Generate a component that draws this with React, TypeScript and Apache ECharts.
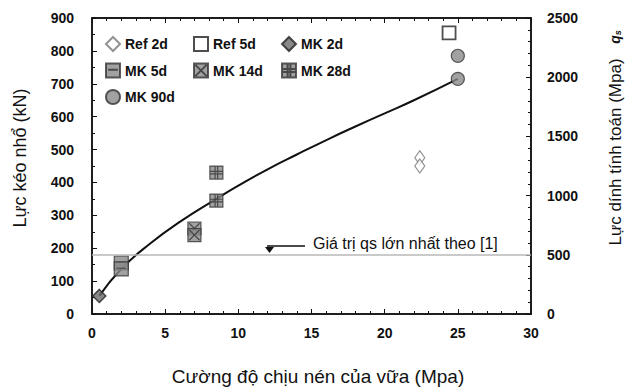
import React, { useEffect, useRef } from "react";
import * as echarts from "echarts";

// Data
const ref2d: number[][] = [[22.4, 475], [22.4, 450]];
const ref5d: number[][] = [[24.4, 855]];
const mk2d: number[][] = [[0.5, 55]];
const mk5d: number[][] = [[2, 155], [2, 137]];
const mk14d: number[][] = [[7, 260], [7, 240]];
const mk28d: number[][] = [[8.5, 430], [8.5, 345]];
const mk90d: number[][] = [[25, 785], [25, 715]];

// trend curve
const curveX = [0.5, 2, 4, 6, 8.5, 10, 12, 14, 16.3, 18, 20, 22, 25];
const curveY = [55, 137, 215, 280, 350, 390, 440, 485, 535, 570, 610, 650, 715];

const qsMax = 500; // right axis value of horizontal reference line

const FONT = "'Liberation Sans', Arial, sans-serif";

export default function App() {
  const ref = useRef<HTMLDivElement>(null);
  useEffect(() => {
    document.body.style.margin = "0";
    const chart = echarts.init(ref.current!, null, { renderer: "svg" });
    const markBase = { color: "#8a8a8a", borderColor: "#333", borderWidth: 1.2 };
    const tickLabel = { fontFamily: FONT, fontWeight: "bold" as const, fontSize: 14, color: "#111" };
    const axisLine = { show: true, onZero: false, lineStyle: { color: "#111", width: 1.5 } };
    const axisTick = { show: true, inside: true, length: 5, lineStyle: { color: "#111", width: 1 } };
    const legendText = { fontFamily: FONT, fontWeight: "bold", fontSize: 14, color: "#111" };
    const option: any = {
      animation: false,
      backgroundColor: "#fff",
      grid: { left: 92, right: 104, top: 18, bottom: 78, show: true, borderColor: "#111", borderWidth: 1.5, backgroundColor: "transparent" },
      legend: [
        {
          orient: "vertical", left: 105, top: 36, padding: 0, itemGap: 10.5, itemWidth: 14, itemHeight: 14,
          textStyle: legendText, data: ["Ref 2d", "MK 5d", "MK 90d"],
        },
        {
          orient: "vertical", left: 193, top: 36, padding: 0, itemGap: 10.5, itemWidth: 14, itemHeight: 14,
          textStyle: legendText, data: ["Ref 5d", "MK 14d"],
        },
        {
          orient: "vertical", left: 281, top: 36, padding: 0, itemGap: 10.5, itemWidth: 14, itemHeight: 14,
          textStyle: legendText, data: ["MK 2d", "MK 28d"],
        },
      ],
      xAxis: [
        {
          type: "value", min: 0, max: 30, interval: 5, position: "bottom",
          axisLine, axisTick, splitLine: { show: false },
          minorTick: { show: true, splitNumber: 5, length: 3, lineStyle: { color: "#111" } },
          axisLabel: { ...tickLabel, margin: 12 },
        },
        {
          type: "value", min: 0, max: 30, interval: 5, position: "top",
          axisLine, axisTick, splitLine: { show: false },
          minorTick: { show: true, splitNumber: 5, length: 3, lineStyle: { color: "#111" } },
          axisLabel: { show: false },
        },
      ],
      yAxis: [
        {
          type: "value", min: 0, max: 900, interval: 100, position: "left",
          axisLine, axisTick, splitLine: { show: false },
          minorTick: { show: true, splitNumber: 2, length: 3, lineStyle: { color: "#111" } },
          axisLabel: { ...tickLabel, margin: 18 },
        },
        {
          type: "value", min: 0, max: 2500, interval: 500, position: "right",
          axisLine, axisTick, splitLine: { show: false },
          minorTick: { show: true, splitNumber: 5, length: 3, lineStyle: { color: "#111" } },
          axisLabel: { ...tickLabel, margin: 16, formatter: (v: number) => String(v) },
        },
      ],
      series: [
        {
          type: "line", name: "trend", smooth: true, showSymbol: false, symbol: "none",
          data: curveX.map((x, i) => [x, curveY[i]]),
          lineStyle: { color: "#111", width: 2 }, z: 1, silent: true,
        },
        {
          type: "line", name: "qsmax", yAxisIndex: 1, data: [], silent: true,
          markLine: {
            symbol: "none", silent: true, label: { show: false },
            lineStyle: { color: "#b8b8b8", width: 1.5, type: "solid" },
            data: [{ yAxis: qsMax }],
          },
        },
        {
          type: "scatter", name: "Ref 2d", data: ref2d, symbol: "diamond", symbolSize: [10, 14],
          itemStyle: { color: "#fff", borderColor: "#777", borderWidth: 1.2 }, z: 3,
        },
        {
          type: "scatter", name: "Ref 5d", data: ref5d, symbol: "rect", symbolSize: 13,
          itemStyle: { color: "#fff", borderColor: "#222", borderWidth: 1.8 }, z: 3,
        },
        {
          type: "scatter", name: "MK 2d", data: mk2d, symbol: "diamond", symbolSize: 13,
          itemStyle: { color: "#6a6a6a", borderColor: "#222", borderWidth: 1.5 }, z: 3,
        },
        {
          type: "scatter", name: "MK 5d", data: mk5d, symbol: "path://M0 0H10V10H0Z M1.5 4.5H8.5", symbolSize: 14,
          itemStyle: { ...markBase }, z: 3,
        },
        {
          type: "scatter", name: "MK 14d", data: mk14d,
          symbol: "path://M0 0H10V10H0Z M1 1L9 9 M9 1L1 9", symbolSize: 13,
          itemStyle: { ...markBase }, z: 3,
        },
        {
          type: "scatter", name: "MK 28d", data: mk28d,
          symbol: "path://M0 0H10V10H0Z M4 0V10 M6 0V10 M0 4H10 M0 6H10", symbolSize: 13,
          itemStyle: { ...markBase }, z: 3,
        },
        {
          type: "scatter", name: "MK 90d", data: mk90d, symbol: "circle", symbolSize: 13,
          itemStyle: { ...markBase }, z: 3,
        },
      ],
      graphic: [
        {
          type: "text", x: 20, y: 158, rotation: Math.PI / 2,
          style: { text: "Lực kéo nhổ (kN)", font: `18px ${FONT}`, fill: "#111", align: "center", verticalAlign: "middle" },
        },
        {
          type: "text", x: 615, y: 152, rotation: Math.PI / 2,
          style: { text: "Lực dính tính toán (Mpa)", font: `17px ${FONT}`, fill: "#111", align: "center", verticalAlign: "middle" },
        },
        {
          type: "text", x: 615, y: 37, rotation: Math.PI / 2,
          style: {
            text: "{q|q}{s|s}", align: "center", verticalAlign: "middle",
            rich: {
              q: { font: `italic bold 14px ${FONT}`, fill: "#111" },
              s: { font: `italic bold 9px ${FONT}`, fill: "#111", padding: [6, 0, 0, 0] },
            },
          },
        },
        {
          type: "text", x: 318, y: 376,
          style: { text: "Cường độ chịu nén của vữa (Mpa)", font: `19px ${FONT}`, fill: "#111", align: "center", verticalAlign: "middle" },
        },
        {
          type: "text", x: 313, y: 243,
          style: { text: "Giá trị qs lớn nhất theo [1]", font: `16px ${FONT}`, fill: "#111", align: "left", verticalAlign: "middle" },
        },
        {
          type: "line", shape: { x1: 267, y1: 246, x2: 305, y2: 246 },
          style: { stroke: "#111", lineWidth: 1.3 },
        },
        {
          type: "polygon", shape: { points: [[265, 247], [274, 247], [269.5, 253]] },
          style: { fill: "#111" },
        },
      ],
    };
    chart.setOption(option);
    return () => chart.dispose();
  }, []);
  return <div ref={ref} style={{ width: 635, height: 392 }} />;
}
